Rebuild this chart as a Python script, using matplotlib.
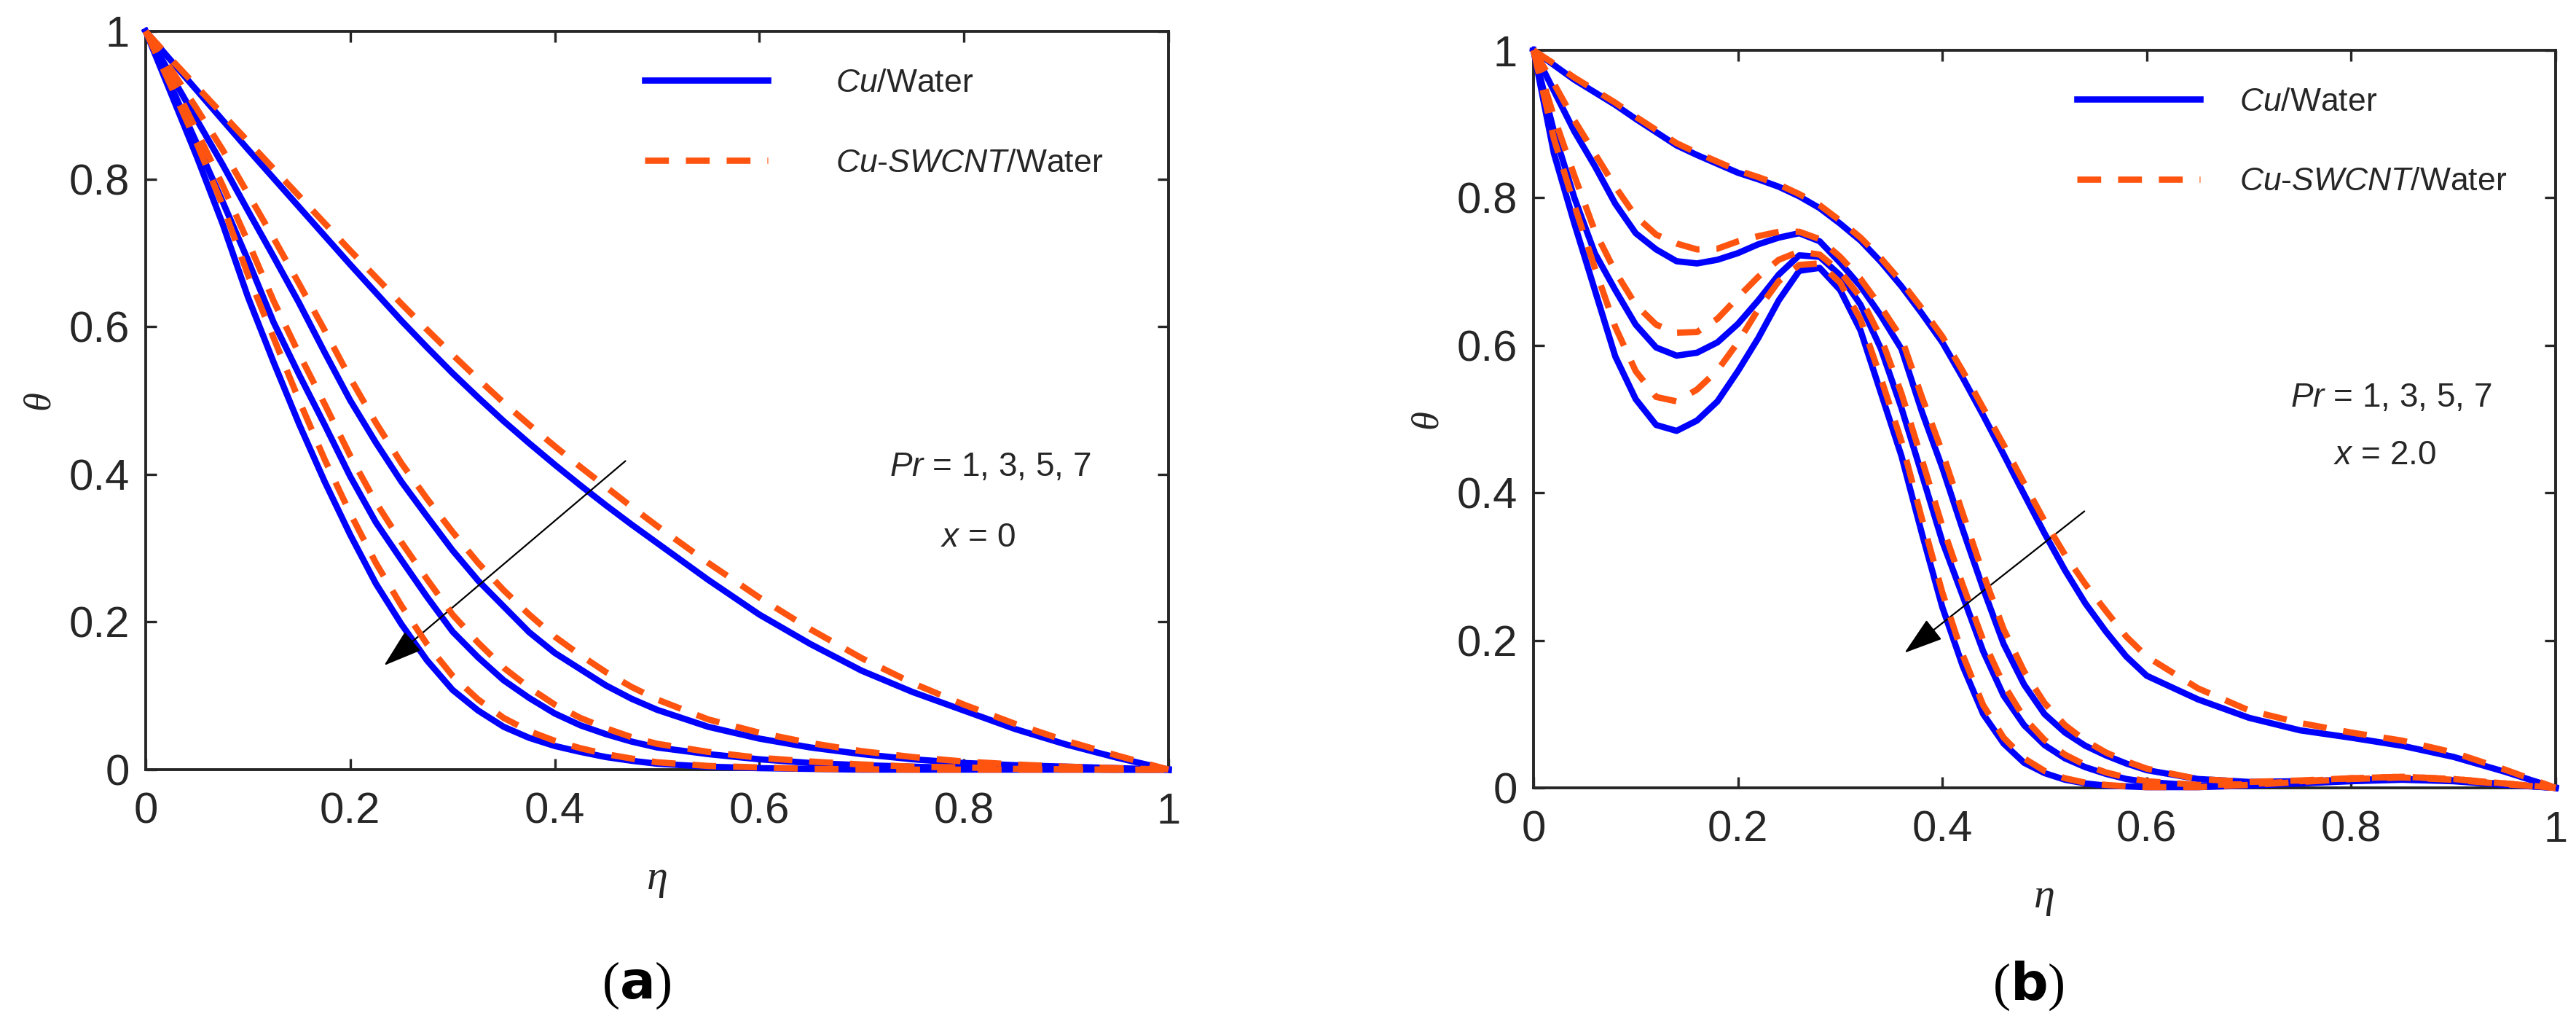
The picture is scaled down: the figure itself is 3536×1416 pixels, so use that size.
import matplotlib
matplotlib.use("Agg")
import matplotlib.pyplot as plt
import numpy as np

plt.rcParams['font.family'] = ['Liberation Sans', 'DejaVu Sans']
plt.rcParams['mathtext.fontset'] = 'custom'
plt.rcParams['mathtext.it'] = 'Liberation Sans:italic'
plt.rcParams['mathtext.rm'] = 'Liberation Sans'

# ---- panel (a): x = 0 ----
eta_a = [0.0, 0.025, 0.05, 0.075, 0.1, 0.125, 0.15, 0.175, 0.2, 0.225, 0.25,
         0.275, 0.3, 0.325, 0.35, 0.375, 0.4, 0.425, 0.45, 0.475, 0.5,
         0.55, 0.6, 0.65, 0.7, 0.75, 0.8, 0.85, 0.9, 0.95, 1.0]
a_cu_pr1 = [1.0, 0.96, 0.92, 0.88, 0.84, 0.801, 0.762, 0.723, 0.684, 0.646, 0.608,
            0.572, 0.537, 0.504, 0.472, 0.442, 0.413, 0.385, 0.358, 0.332, 0.307,
            0.257, 0.21, 0.17, 0.134, 0.105, 0.08, 0.055, 0.034, 0.016, 0.0]
a_cu_pr3 = [1.0, 0.94, 0.88, 0.82, 0.757, 0.695, 0.632, 0.565, 0.5, 0.443, 0.39,
            0.343, 0.297, 0.256, 0.221, 0.186, 0.158, 0.136, 0.114, 0.096, 0.081,
            0.058, 0.042, 0.03, 0.021, 0.014, 0.009, 0.006, 0.004, 0.002, 0.0]
a_cu_pr5 = [1.0, 0.925, 0.848, 0.77, 0.69, 0.606, 0.535, 0.467, 0.397, 0.335, 0.284,
            0.234, 0.187, 0.152, 0.121, 0.097, 0.076, 0.06, 0.048, 0.038, 0.03,
            0.021, 0.014, 0.009, 0.006, 0.004, 0.002, 0.001, 0.0005, 0.0, 0.0]
a_cu_pr7 = [1.0, 0.915, 0.83, 0.74, 0.64, 0.552, 0.468, 0.39, 0.318, 0.252, 0.197,
            0.148, 0.108, 0.08, 0.058, 0.043, 0.032, 0.024, 0.017, 0.012, 0.008,
            0.004, 0.002, 0.001, 0.0, 0.0, 0.0, 0.0, 0.0, 0.0, 0.0]
a_hy_pr1 = [1.0, 0.962, 0.925, 0.888, 0.851, 0.814, 0.777, 0.74, 0.703, 0.667, 0.631,
            0.596, 0.562, 0.529, 0.497, 0.467, 0.438, 0.41, 0.383, 0.356, 0.33,
            0.28, 0.233, 0.19, 0.151, 0.117, 0.088, 0.062, 0.039, 0.019, 0.0]
a_hy_pr3 = [1.0, 0.948, 0.895, 0.84, 0.78, 0.72, 0.658, 0.595, 0.53, 0.47, 0.415,
            0.367, 0.322, 0.28, 0.243, 0.21, 0.18, 0.155, 0.132, 0.112, 0.095,
            0.068, 0.05, 0.036, 0.025, 0.017, 0.011, 0.007, 0.004, 0.002, 0.0]
a_hy_pr5 = [1.0, 0.935, 0.865, 0.792, 0.715, 0.635, 0.563, 0.495, 0.425, 0.362, 0.308,
            0.258, 0.21, 0.172, 0.138, 0.111, 0.088, 0.07, 0.056, 0.044, 0.035,
            0.024, 0.016, 0.011, 0.007, 0.004, 0.003, 0.001, 0.0005, 0.0, 0.0]
a_hy_pr7 = [1.0, 0.925, 0.848, 0.765, 0.67, 0.585, 0.5, 0.42, 0.347, 0.28, 0.222,
            0.17, 0.127, 0.095, 0.07, 0.052, 0.039, 0.029, 0.021, 0.015, 0.01,
            0.005, 0.003, 0.001, 0.0005, 0.0, 0.0, 0.0, 0.0, 0.0, 0.0]

# ---- panel (b): x = 2.0 ----
eta_b = [0.0, 0.02, 0.04, 0.06, 0.08, 0.10, 0.12, 0.14, 0.16, 0.18, 0.20,
         0.22, 0.24, 0.26, 0.28, 0.30, 0.32, 0.34, 0.36, 0.38, 0.40,
         0.42, 0.44, 0.46, 0.48, 0.50, 0.52, 0.54, 0.56, 0.58, 0.60,
         0.65, 0.70, 0.75, 0.80, 0.85, 0.90, 0.95, 1.0]
b_cu_pr1 = [1.0, 0.98, 0.96, 0.943, 0.926, 0.907, 0.889, 0.871, 0.858, 0.846, 0.834,
            0.825, 0.815, 0.802, 0.786, 0.765, 0.742, 0.713, 0.68, 0.643, 0.604,
            0.556, 0.505, 0.452, 0.398, 0.345, 0.295, 0.25, 0.212, 0.178, 0.152,
            0.12, 0.095, 0.078, 0.068, 0.057, 0.042, 0.022, 0.0]
b_cu_pr3 = [1.0, 0.945, 0.89, 0.843, 0.792, 0.752, 0.73, 0.714, 0.711, 0.716, 0.725,
            0.737, 0.746, 0.752, 0.741, 0.712, 0.68, 0.64, 0.595, 0.51, 0.434,
            0.35, 0.27, 0.195, 0.14, 0.10, 0.075, 0.057, 0.044, 0.033, 0.024,
            0.012, 0.008, 0.009, 0.011, 0.012, 0.01, 0.005, 0.0]
b_cu_pr5 = [1.0, 0.89, 0.80, 0.725, 0.675, 0.628, 0.597, 0.586, 0.59, 0.604, 0.629,
            0.661, 0.696, 0.722, 0.72, 0.695, 0.655, 0.595, 0.515, 0.425, 0.334,
            0.26, 0.185, 0.125, 0.085, 0.058, 0.04, 0.028, 0.019, 0.012, 0.008,
            0.003, 0.004, 0.007, 0.01, 0.012, 0.01, 0.005, 0.0]
b_cu_pr7 = [1.0, 0.86, 0.765, 0.675, 0.585, 0.527, 0.492, 0.484, 0.498, 0.524, 0.565,
            0.61, 0.661, 0.701, 0.705, 0.675, 0.62, 0.535, 0.45, 0.345, 0.245,
            0.165, 0.10, 0.06, 0.034, 0.02, 0.011, 0.006, 0.003, 0.002, 0.001,
            0.001, 0.003, 0.006, 0.009, 0.011, 0.009, 0.004, 0.0]
b_hy_pr1 = [1.0, 0.982, 0.963, 0.946, 0.929, 0.91, 0.892, 0.874, 0.861, 0.849, 0.837,
            0.828, 0.818, 0.805, 0.79, 0.769, 0.746, 0.718, 0.686, 0.65, 0.612,
            0.565, 0.515, 0.465, 0.413, 0.362, 0.316, 0.276, 0.24, 0.205, 0.178,
            0.135, 0.105, 0.088, 0.075, 0.064, 0.048, 0.025, 0.0]
b_hy_pr3 = [1.0, 0.955, 0.905, 0.86, 0.815, 0.775, 0.75, 0.738, 0.73, 0.731, 0.741,
            0.748, 0.754, 0.754, 0.744, 0.72, 0.69, 0.652, 0.61, 0.53, 0.455,
            0.372, 0.29, 0.215, 0.158, 0.115, 0.085, 0.064, 0.048, 0.036, 0.026,
            0.012, 0.008, 0.01, 0.013, 0.015, 0.012, 0.006, 0.0]
b_hy_pr5 = [1.0, 0.91, 0.83, 0.755, 0.70, 0.655, 0.628, 0.617, 0.618, 0.636, 0.665,
            0.693, 0.716, 0.727, 0.723, 0.70, 0.665, 0.61, 0.535, 0.445, 0.355,
            0.275, 0.20, 0.14, 0.095, 0.065, 0.045, 0.031, 0.021, 0.014, 0.009,
            0.004, 0.005, 0.009, 0.013, 0.015, 0.012, 0.006, 0.0]
b_hy_pr7 = [1.0, 0.88, 0.79, 0.705, 0.625, 0.565, 0.53, 0.524, 0.54, 0.566, 0.604,
            0.649, 0.687, 0.709, 0.711, 0.685, 0.635, 0.555, 0.47, 0.365, 0.265,
            0.18, 0.112, 0.068, 0.04, 0.023, 0.013, 0.007, 0.004, 0.002, 0.001,
            0.001, 0.004, 0.008, 0.012, 0.014, 0.011, 0.005, 0.0]

ticks = [0, 0.2, 0.4, 0.6, 0.8, 1]
tick_labels = ['0', '0.2', '0.4', '0.6', '0.8', '1']
legend_labels = [r'$Cu$/Water', r'$Cu$-$SWCNT$/Water']

blue = '#0000FF'
orange = '#FF5410'
dark = '#262626'

fig = plt.figure(figsize=(35.36, 14.16), dpi=100)
ax_a = fig.add_axes([0.05656, 0.25424, 0.39706, 0.71540])
ax_b = fig.add_axes([0.59530, 0.23658, 0.39677, 0.71469])


def draw_panel(ax, eta, solids, dashes, leg_x, leg_pad, texts, arrow, letter, letter_x):
    hs = hd = None
    for ys in solids:
        hs, = ax.plot(eta, ys, color=blue, lw=6.2, clip_on=False, zorder=3,
                      solid_joinstyle='round')
    for ys in dashes:
        hd, = ax.plot(eta, ys, color=orange, lw=6.2, clip_on=False, zorder=4,
                      dashes=(3.8, 2.7))
    ax.set_xlim(0, 1)
    ax.set_ylim(0, 1)
    ax.set_xticks(ticks)
    ax.set_xticklabels(tick_labels)
    ax.set_yticks(ticks)
    ax.set_yticklabels(tick_labels)
    ax.tick_params(direction='in', length=11, width=2.4, colors=dark,
                   labelsize=43, top=True, right=True)
    ax.tick_params(axis='x', pad=22)
    ax.tick_params(axis='y', pad=16)
    for sp in ax.spines.values():
        sp.set_linewidth(2.8)
        sp.set_color(dark)
    ax.set_xlabel('η', family='Liberation Serif', style='italic', fontsize=42,
                  color=dark, labelpad=28)
    ax.set_ylabel('θ', family='Liberation Serif', style='italic', fontsize=38,
                  color=dark, labelpad=12)
    leg = ax.legend([hs, hd], legend_labels, loc='upper left',
                    bbox_to_anchor=(leg_x, 0.95), frameon=False, fontsize=32,
                    handlelength=3.8, handletextpad=leg_pad, labelspacing=1.55,
                    borderpad=0, borderaxespad=0)
    for t in leg.get_texts():
        t.set_color(dark)
    for (tx, ty, s) in texts:
        ax.text(tx, ty, s, transform=ax.transAxes, ha='center', va='center',
                fontsize=33, color=dark)
    ax.annotate('', xy=arrow[1], xytext=arrow[0],
                arrowprops=dict(arrowstyle='-|>,head_length=1.4,head_width=0.45',
                                color='black', lw=1.6, mutation_scale=24,
                                shrinkA=0, shrinkB=0))
    fig.text(letter_x, 0.045, letter, ha='center', va='center',
             family='Liberation Serif', fontsize=52, color='black')


draw_panel(ax_a, eta_a,
           [a_cu_pr1, a_cu_pr3, a_cu_pr5, a_cu_pr7],
           [a_hy_pr1, a_hy_pr3, a_hy_pr5, a_hy_pr7],
           0.488, 2.1,
           [(0.826, 0.41, r'$Pr$ = 1, 3, 5, 7'), (0.814, 0.314, r'$x$ = 0')],
           ((0.469, 0.418), (0.233, 0.141)),
           r'($\mathbf{a}$)', 874 / 3536)

draw_panel(ax_b, eta_b,
           [b_cu_pr1, b_cu_pr3, b_cu_pr5, b_cu_pr7],
           [b_hy_pr1, b_hy_pr3, b_hy_pr5, b_hy_pr7],
           0.532, 1.2,
           [(0.839, 0.529, r'$Pr$ = 1, 3, 5, 7'), (0.833, 0.451, r'$x$ = 2.0')],
           ((0.539, 0.375), (0.363, 0.183)),
           r'($\mathbf{b}$)', 2784 / 3536)

fig.savefig('out.png', dpi=100, facecolor='white')
